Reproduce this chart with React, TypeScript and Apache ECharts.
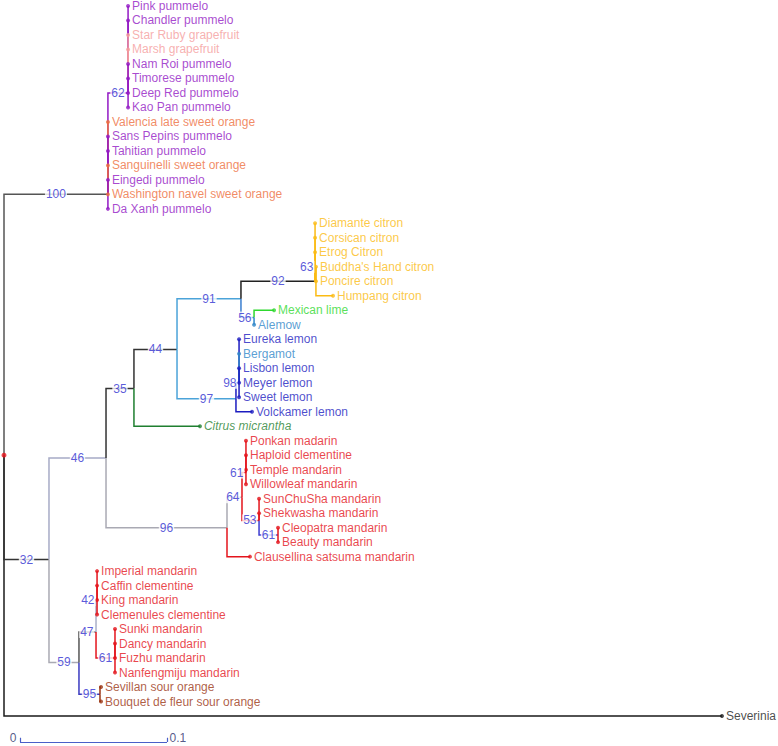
import React, { useEffect, useRef } from "react";
import * as echarts from "echarts";

// ---------- data ----------
const leafNames = [
  "Pink pummelo", "Chandler pummelo", "Star Ruby grapefruit", "Marsh grapefruit", "Nam Roi pummelo",
  "Timorese pummelo", "Deep Red pummelo", "Kao Pan pummelo", "Valencia late sweet orange", "Sans Pepins pummelo",
  "Tahitian pummelo", "Sanguinelli sweet orange", "Eingedi pummelo", "Washington navel sweet orange", "Da Xanh pummelo",
  "Diamante citron", "Corsican citron", "Etrog Citron", "Buddha's Hand citron", "Poncire citron", "Humpang citron",
  "Mexican lime", "Alemow",
  "Eureka lemon", "Bergamot", "Lisbon lemon", "Meyer lemon", "Sweet lemon", "Volckamer lemon",
  "Citrus micrantha",
  "Ponkan madarin", "Haploid clementine", "Temple mandarin", "Willowleaf mandarin", "SunChuSha mandarin",
  "Shekwasha mandarin", "Cleopatra mandarin", "Beauty mandarin", "Clausellina satsuma mandarin",
  "Imperial mandarin", "Caffin clementine", "King mandarin", "Clemenules clementine",
  "Sunki mandarin", "Dancy mandarin", "Fuzhu mandarin", "Nanfengmiju mandarin",
  "Sevillan sour orange", "Bouquet de fleur sour orange",
  "Severinia",
];

const leafGroups = [
  "pummelo", "pummelo", "grapefruit", "grapefruit", "pummelo", "pummelo", "pummelo", "pummelo", "orange", "pummelo",
  "pummelo", "orange", "pummelo", "orange", "pummelo",
  "citron", "citron", "citron", "citron", "citron", "citron",
  "lime", "papeda",
  "lemon", "papeda", "lemon", "lemon", "lemon", "lemon",
  "micrantha",
  "mandarin", "mandarin", "mandarin", "mandarin", "mandarin", "mandarin", "mandarin", "mandarin", "mandarin",
  "mandarin", "mandarin", "mandarin", "mandarin", "mandarin", "mandarin", "mandarin", "mandarin",
  "sour", "sour",
  "outgroup",
];

const leafParent = [
  "n62", "n62", "n62", "n62", "n62", "n62", "n62", "n62",
  "n100", "n100", "n100", "n100", "n100", "n100", "n100",
  "n92", "n92", "n92", "n63", "n63", "n63",
  "n56", "n56",
  "n98", "n98", "n98", "n98", "n98", "n97",
  "n35",
  "n61a", "n61a", "n61a", "n61a", "n53", "n53", "n61b", "n61b", "n96",
  "n42", "n42", "n42", "n42", "n61c", "n61c", "n61c", "n61c",
  "n95", "n95",
  "root",
];

// distance from root (substitutions per site)
const leafDist = [
  0.0844, 0.0844, 0.0844, 0.0844, 0.0844, 0.0844, 0.0844, 0.0844,
  0.0707, 0.0707, 0.0707, 0.0707, 0.0707, 0.0707, 0.0707,
  0.2116, 0.2116, 0.2116, 0.2122, 0.2122, 0.2238,
  0.1837, 0.1701,
  0.1599, 0.1599, 0.1599, 0.1599, 0.1599, 0.1687,
  0.1333,
  0.1646, 0.1646, 0.1646, 0.1646, 0.1735, 0.1735, 0.1864, 0.1864, 0.1673,
  0.0633, 0.0633, 0.0633, 0.0633, 0.0755, 0.0755, 0.0755, 0.0755,
  0.0660, 0.0660,
  0.4884,
];

const nodeIds = ["root", "n100", "n62", "n32", "n46", "n35", "n44", "n91", "n92", "n63", "n56", "n97", "n98", "n96", "n64", "n61a", "n53", "n61b", "n59", "n47", "n42", "n61c", "n95"];
const nodeParent = ["", "root", "n100", "root", "n32", "n46", "n35", "n44", "n91", "n92", "n91", "n44", "n97", "n46", "n96", "n64", "n64", "n53", "n32", "n59", "n47", "n47", "n59"];
const nodeDist = [0, 0.0707, 0.0844, 0.0306, 0.0694, 0.0884, 0.1177, 0.1612, 0.2116, 0.2122, 0.1701, 0.1578, 0.1599, 0.1517, 0.1619, 0.1646, 0.1735, 0.1864, 0.0510, 0.0626, 0.0633, 0.0755, 0.0653];
const nodeRow = [31, 13, 6, 38.2, 31.2, 26.4, 23.7, 20.2, 19, 18, 21.5, 27.1, 26, 36, 33.9, 32.2, 35.5, 36.5, 45.3, 43.2, 41, 45, 47.5];
const nodeSupport = ["", "100", "62", "32", "46", "35", "44", "91", "92", "63", "56", "97", "98", "96", "64", "61", "53", "61", "59", "47", "42", "61", "95"];

const scaleBarStart = 0.0109;
const scaleBarLength = 0.1;
const scaleBarRow = 50.8;
const scaleLabels = ["0", "0.1"];

// ---------- styles ----------
const groupColor: Record<string, string> = {
  pummelo: "#9218c4",
  grapefruit: "#f59c9c",
  orange: "#ee6e3c",
  citron: "#fbbb14",
  lime: "#2ed82e",
  papeda: "#2f86c8",
  lemon: "#1c1cc0",
  micrantha: "#1f7f30",
  mandarin: "#e4141c",
  sour: "#9a3412",
  outgroup: "#1a1a1a",
};

const nodeBranchColor: Record<string, string> = {
  root: "#444444",
  n100: "#555555",
  n62: "#9218c4",
  n32: "#333333",
  n46: "#a7abc6",
  n35: "#333333",
  n44: "#333333",
  n91: "#4ba3d9",
  n92: "#222222",
  n63: "#fbbb14",
  n56: "#3b7fd0",
  n97: "#4ba3d9",
  n98: "#1c1cc0",
  n96: "#a9a9b3",
  n64: "#a9a9b3",
  n61a: "#e4141c",
  n53: "#e4141c",
  n61b: "#3b3bd0",
  n59: "#a9a9b3",
  n47: "#555555",
  n42: "#aab0c8",
  n61c: "#e4141c",
  n95: "#3a3ac0",
};

const PX_PER_UNIT = 1470;
const FONT = "Arial, 'Liberation Sans', sans-serif";
const SUPPORT_COLOR = "#2f2fd0";

function buildOption() {
  type Pt = { id: string; x: number; row: number; color: string; parent: string };
  const nodes: Record<string, Pt> = {};
  nodeIds.forEach((id, i) => {
    nodes[id] = { id, x: nodeDist[i], row: nodeRow[i], color: nodeBranchColor[id], parent: nodeParent[i] };
  });
  const children: Record<string, Pt[]> = {};
  const push = (p: string, c: Pt) => {
    if (!p) return;
    (children[p] = children[p] || []).push(c);
  };
  nodeIds.forEach((id) => push(nodes[id].parent, nodes[id]));
  leafNames.forEach((name, i) => {
    push(leafParent[i], { id: name, x: leafDist[i], row: i, color: groupColor[leafGroups[i]], parent: leafParent[i] });
  });

  const segs: any[] = [];
  nodeIds.forEach((id) => {
    const n = nodes[id];
    const ch = (children[id] || []).slice().sort((a, b) => Math.abs(b.row - n.row) - Math.abs(a.row - n.row));
    ch.forEach((c) => {
      segs.push({
        coords: [[n.x, n.row], [n.x, c.row], [c.x, c.row]],
        lineStyle: { color: c.color },
      });
    });
  });

  const leafData = leafNames.map((name, i) => {
    const color = groupColor[leafGroups[i]];
    return {
      name,
      value: [leafDist[i], i],
      itemStyle: { color },
      label: { color, fontStyle: name === "Citrus micrantha" ? "italic" : "normal" },
    };
  });

  const supportData: any[] = [];
  nodeIds.forEach((id, i) => {
    if (!nodeSupport[i]) return;
    const n = nodes[id];
    const p = nodes[n.parent];
    const lenPx = (n.x - p.x) * PX_PER_UNIT;
    if (lenPx >= 18) {
      supportData.push({
        name: nodeSupport[i],
        value: [(n.x + p.x) / 2, n.row],
        label: { position: "inside", align: "center", verticalAlign: "middle" },
      });
    } else {
      supportData.push({
        name: nodeSupport[i],
        value: [n.x, n.row],
        label: { position: "left", distance: 1 },
      });
    }
  });

  const scaleSegs = [
    { coords: [[scaleBarStart, scaleBarRow], [scaleBarStart + scaleBarLength, scaleBarRow]] },
    { coords: [[scaleBarStart, scaleBarRow], [scaleBarStart, scaleBarRow - 0.3]] },
    { coords: [[scaleBarStart + scaleBarLength, scaleBarRow], [scaleBarStart + scaleBarLength, scaleBarRow - 0.3]] },
  ];
  const scaleText = [
    { name: scaleLabels[0], value: [scaleBarStart, scaleBarRow], label: { position: "left", distance: 3, offset: [0, -4] } },
    { name: scaleLabels[1], value: [scaleBarStart + scaleBarLength, scaleBarRow], label: { position: "right", distance: 2, offset: [0, -4] } },
  ];

  const hidden = { color: "rgba(0,0,0,0)" };

  return {
    animation: false,
    backgroundColor: "#ffffff",
    grid: { left: 4, top: 6, right: 39, bottom: 1 },
    xAxis: { type: "value", min: 0, max: 0.5, show: false },
    yAxis: { type: "value", min: 0, max: 51, inverse: true, show: false },
    series: [
      {
        type: "lines",
        coordinateSystem: "cartesian2d",
        polyline: true,
        silent: true,
        z: 2,
        lineStyle: { width: 1.5, opacity: 1 },
        data: segs,
      },
      {
        type: "lines",
        coordinateSystem: "cartesian2d",
        silent: true,
        z: 2,
        lineStyle: { width: 1.2, opacity: 1, color: "#4a5fc8" },
        data: scaleSegs,
      },
      {
        type: "scatter",
        symbol: "circle",
        symbolSize: 4,
        z: 3,
        silent: true,
        label: {
          show: true,
          position: "right",
          distance: 2,
          formatter: "{b}",
          fontSize: 12,
          fontFamily: FONT,
        },
        data: leafData,
      },
      {
        type: "scatter",
        symbol: "circle",
        symbolSize: 5,
        z: 3,
        silent: true,
        itemStyle: { color: "#e8141c" },
        data: [[nodes.root.x, nodes.root.row]],
      },
      {
        type: "scatter",
        symbol: "rect",
        symbolSize: 1,
        z: 5,
        silent: true,
        itemStyle: hidden,
        label: {
          show: true,
          formatter: "{b}",
          fontSize: 12,
          fontFamily: FONT,
          color: SUPPORT_COLOR,
          backgroundColor: "#ffffff",
          padding: [0, 1],
        },
        labelLayout: { hideOverlap: false },
        data: supportData,
      },
      {
        type: "scatter",
        symbol: "rect",
        symbolSize: 1,
        z: 5,
        silent: true,
        itemStyle: hidden,
        label: { show: true, formatter: "{b}", fontSize: 12, fontFamily: FONT, color: "#2a2f6a" },
        data: scaleText,
      },
    ],
  };
}

export default function App() {
  const ref = useRef<HTMLDivElement>(null);
  useEffect(() => {
    if (!ref.current) return;
    const chart = echarts.init(ref.current, undefined, { renderer: "svg" });
    chart.setOption(buildOption() as any);
    return () => chart.dispose();
  }, []);
  return (
    <div
      ref={ref}
      style={{ position: "fixed", left: 0, top: 0, width: 778, height: 746, background: "#fff" }}
    />
  );
}
